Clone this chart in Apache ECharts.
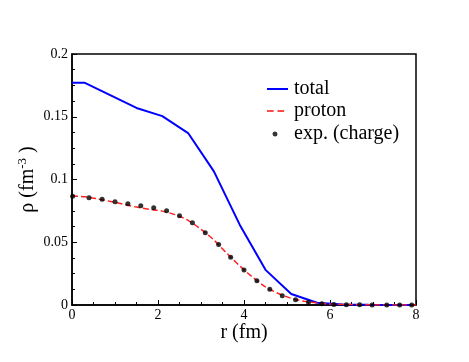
<!DOCTYPE html>
<html lang="en">
<head>
  <meta charset="UTF-8">
  <title>density</title>
  <script src="https://cdn.jsdelivr.net/npm/echarts@6/dist/echarts.min.js"></script>
  <style>
    html, body { margin: 0; padding: 0; background: #fff; }
    #main { width: 469px; height: 362px; }
  </style>
</head>
<body>
  <div id="main"></div>
  <script>
    // total density (fm^-3) vs r (fm)
    var totalR = [0, 0.3, 0.9, 1.5, 2.1, 2.7, 3.3, 3.9, 4.5, 5.1, 5.7, 6.3, 6.9, 7.5, 7.9];
    var totalRho = [0.177, 0.177, 0.167, 0.157, 0.1505, 0.137, 0.1065, 0.064, 0.028, 0.0088, 0.0018, 0.0004, 0.0001, 0, 0];

    // proton density
    var protonR = [0, 0.3, 0.6, 0.9, 1.2, 1.5, 1.8, 2.1, 2.4, 2.7, 3.0, 3.3, 3.6, 3.9, 4.2, 4.5, 4.8, 5.1, 5.4, 5.7, 6.0, 6.5, 7, 7.5, 8];
    var protonRho = [0.0868, 0.0862, 0.0845, 0.0825, 0.0803, 0.078, 0.0763, 0.0748, 0.072, 0.0675, 0.0603, 0.0518, 0.0412, 0.0312, 0.0222, 0.0145, 0.0092, 0.0053, 0.003, 0.0016, 0.0008, 0.0003, 0.0001, 0, 0];

    // experimental charge density
    var expR = [0.015, 0.395, 0.7, 1.0, 1.3, 1.6, 1.9, 2.2, 2.5, 2.8, 3.1, 3.41, 3.69, 4.0, 4.3, 4.6, 4.89, 5.2, 5.5, 5.81, 6.09, 6.38, 6.69, 6.98, 7.32, 7.62, 7.9];
    var expRho = [0.0866, 0.0855, 0.0842, 0.0823, 0.0807, 0.0791, 0.0775, 0.0751, 0.0712, 0.0656, 0.0576, 0.0482, 0.038, 0.0279, 0.0194, 0.0125, 0.0074, 0.0042, 0.0021, 0.001, 0.0003, 0.0002, 0.0001, 0, 0, 0, 0];

    var xTicks = [0, 2, 4, 6, 8];
    var yTicks = [0, 0.05, 0.1, 0.15, 0.2];

    function zip(a, b) {
      return a.map(function (v, i) { return [v, b[i]]; });
    }

    var serif = '"Liberation Serif", "DejaVu Serif", serif';
    var legendText = { fontFamily: serif, fontSize: 20, color: '#000', padding: [0, 0, 0, 1] };

    var myChart = echarts.init(document.getElementById('main'));
    var option = {
      animation: false,
      grid: {
        left: 72, right: 53, top: 54, bottom: 57,
        show: true, borderColor: '#000', borderWidth: 1.5
      },
      legend: [{
        data: [{ name: 'total', icon: 'path://M0,0h21v2h-21z' }],
        left: 262, top: 74, itemWidth: 21, itemHeight: 2,
        itemGap: 0, textStyle: legendText
      }, {
        data: [{ name: 'proton', icon: 'path://M0,0h7v2h-7zM11,0h7v2h-7zM22,0h0v2h0z' }],
        left: 262, top: 96, itemWidth: 21, itemHeight: 2,
        itemGap: 0, textStyle: legendText
      }, {
        data: [{ name: 'exp. (charge)', icon: 'path://M8,0a2.5,2.5 0 1,0 0.01,0zM0,0h0v5h0zM21,0h0v5h0z' }],
        left: 262, top: 119, itemWidth: 21, itemHeight: 5,
        itemGap: 0, textStyle: legendText
      }],
      xAxis: {
        type: 'value', min: xTicks[0], max: xTicks[xTicks.length - 1], interval: 2,
        name: 'r (fm)', nameLocation: 'middle', nameGap: 18, nameMoveOverlap: false,
        nameTextStyle: { fontFamily: serif, fontSize: 20, color: '#000' },
        axisLine: { lineStyle: { color: '#000', width: 1.5 } },
        axisTick: { inside: true, length: 5, lineStyle: { color: '#000', width: 1 } },
        minorTick: { show: true, splitNumber: 4, length: 3, lineStyle: { color: '#000', width: 1 } },
        axisLabel: { fontFamily: serif, fontSize: 14, color: '#000', margin: 3 },
        splitLine: { show: false }
      },
      yAxis: {
        type: 'value', min: yTicks[0], max: yTicks[yTicks.length - 1], interval: 0.05,
        name: '{a|ρ (fm}{s|-3}{a| )}', nameLocation: 'middle', nameGap: 32, nameMoveOverlap: false,
        nameTextStyle: {
          fontFamily: serif, fontSize: 20, color: '#000',
          rich: {
            a: { fontFamily: serif, fontSize: 20, color: '#000', lineHeight: 24 },
            s: { fontFamily: serif, fontSize: 13, color: '#000', verticalAlign: 'top', lineHeight: 24, padding: [0, 0, 8, 0] }
          }
        },
        axisLine: { lineStyle: { color: '#000', width: 1.5 } },
        axisTick: { inside: true, length: 5, lineStyle: { color: '#000', width: 1 } },
        minorTick: { show: true, splitNumber: 4, length: 3, lineStyle: { color: '#000', width: 1 } },
        axisLabel: { fontFamily: serif, fontSize: 14, color: '#000', margin: 4 },
        splitLine: { show: false }
      },
      series: [{
        name: 'total', type: 'line', data: zip(totalR, totalRho),
        symbol: 'none', lineStyle: { color: '#0000ff', width: 2 },
        itemStyle: { color: '#0000ff' }
      }, {
        name: 'proton', type: 'line', data: zip(protonR, protonRho),
        symbol: 'none', smooth: 0.3,
        lineStyle: { color: '#ff2020', width: 1.5, type: [6, 3] },
        itemStyle: { color: '#ff4a4a' }
      }, {
        name: 'exp. (charge)', type: 'scatter', data: zip(expR, expRho),
        symbol: 'circle', symbolSize: 5, itemStyle: { color: '#000' }, z: 5
      }]
    };
    myChart.setOption(option);
  </script>
</body>
</html>
